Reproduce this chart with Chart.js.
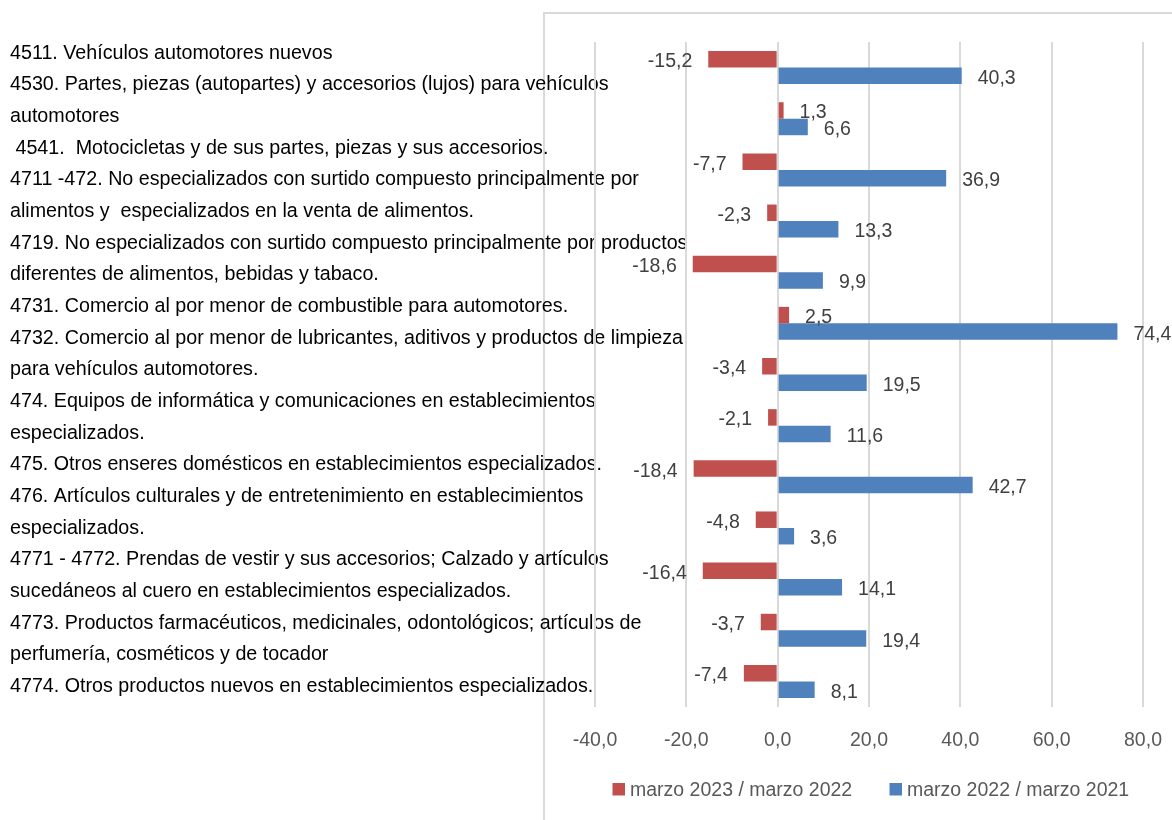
<!DOCTYPE html>
<html><head><meta charset="utf-8">
<script src="https://cdn.jsdelivr.net/npm/chart.js@4/dist/chart.umd.min.js"></script>
<style>html,body{margin:0;padding:0;background:#fff;} canvas{display:block;}</style>
</head><body>
<canvas id="c" width="1172" height="820"></canvas>
<script>
const categories = [
  ["4511. Vehículos automotores nuevos"],
  ["4530. Partes, piezas (autopartes) y accesorios (lujos) para vehículos", "automotores"],
  [" 4541.  Motocicletas y de sus partes, piezas y sus accesorios."],
  ["4711 -472. No especializados con surtido compuesto principalmente por", "alimentos y  especializados en la venta de alimentos."],
  ["4719. No especializados con surtido compuesto principalmente por productos", "diferentes de alimentos, bebidas y tabaco."],
  ["4731. Comercio al por menor de combustible para automotores."],
  ["4732. Comercio al por menor de lubricantes, aditivos y productos de limpieza", "para vehículos automotores."],
  ["474. Equipos de informática y comunicaciones en establecimientos", "especializados."],
  ["475. Otros enseres domésticos en establecimientos especializados."],
  ["476. Artículos culturales y de entretenimiento en establecimientos", "especializados."],
  ["4771 - 4772. Prendas de vestir y sus accesorios; Calzado y artículos", "sucedáneos al cuero en establecimientos especializados."],
  ["4773. Productos farmacéuticos, medicinales, odontológicos; artículos de", "perfumería, cosméticos y de tocador"],
  ["4774. Otros productos nuevos en establecimientos especializados."]
];
const seriesNames = ["marzo 2023 / marzo 2022", "marzo 2022 / marzo 2021"];
const marzo2023 = [-15.2, 1.3, -7.7, -2.3, -18.6, 2.5, -3.4, -2.1, -18.4, -4.8, -16.4, -3.7, -7.4];
const marzo2022 = [40.3, 6.6, 36.9, 13.3, 9.9, 74.4, 19.5, 11.6, 42.7, 3.6, 14.1, 19.4, 8.1];
const xTicks = [-40, -20, 0, 20, 40, 60, 80];

const FONT = '"Liberation Sans", Arial, sans-serif';
const fmt = v => Number(v).toFixed(1).replace('.', ',');

const drawPlugin = {
  id: 'drawExtras',
  beforeDraw(chart) {
    const ctx = chart.ctx;
    ctx.save();
    ctx.fillStyle = '#ffffff';
    ctx.fillRect(0, 0, chart.width, chart.height);
    ctx.strokeStyle = '#d9d9d9';
    ctx.lineWidth = 2;
    ctx.strokeRect(544, 13, 800, 900);
    ctx.fillStyle = '#000000';
    ctx.font = '19.7px ' + FONT;
    ctx.textAlign = 'left';
    ctx.textBaseline = 'alphabetic';
    let i = 0;
    categories.forEach(lines => lines.forEach(line => {
      ctx.fillText(line, 10, 58.7 + i * 31.67);
      i++;
    }));
    ctx.restore();
  },
  afterDatasetsDraw(chart) {
    const ctx = chart.ctx;
    ctx.save();
    ctx.font = '19.5px ' + FONT;
    ctx.fillStyle = '#404040';
    ctx.textBaseline = 'alphabetic';
    chart.data.datasets.forEach((ds, di) => {
      const meta = chart.getDatasetMeta(di);
      meta.data.forEach((bar, j) => {
        const v = ds.data[j];
        const neg = v < 0;
        ctx.textAlign = neg ? 'right' : 'left';
        ctx.fillText(fmt(v), bar.x + (neg ? -16 : 16), bar.y + 8);
      });
    });
    ctx.restore();
  },
  afterDraw(chart) {
    const ctx = chart.ctx;
    ctx.save();
    ctx.font = '19.5px ' + FONT;
    ctx.textAlign = 'left';
    ctx.textBaseline = 'alphabetic';
    const starts = [612.5, 889.5];
    chart.data.datasets.forEach((ds, di) => {
      const x = starts[di];
      ctx.fillStyle = ds.backgroundColor;
      ctx.fillRect(x, 783, 12.5, 12.5);
      ctx.fillStyle = '#595959';
      ctx.fillText(ds.label, x + 17.5, 796);
    });
    ctx.restore();
  }
};

new Chart(document.getElementById('c'), {
  type: 'bar',
  data: {
    labels: categories.map(l => l.join(' ')),
    datasets: [
      { label: seriesNames[0], data: marzo2023, backgroundColor: '#C0504D', borderWidth: 0 },
      { label: seriesNames[1], data: marzo2022, backgroundColor: '#4F81BD', borderWidth: 0 }
    ]
  },
  options: {
    indexAxis: 'y',
    responsive: false,
    animation: false,
    devicePixelRatio: 1,
    datasets: { bar: { categoryPercentage: 0.645, barPercentage: 1.0 } },
    layout: { padding: { left: 595, right: 29, top: 42, bottom: 0 } },
    scales: {
      y: { display: false },
      x: {
        min: -40, max: 80,
        afterBuildTicks: s => { s.ticks = xTicks.map(v => ({ value: v })); },
        afterFit: s => { s.height = 113; s.paddingLeft = 0; s.paddingRight = 0; },
        grid: { color: '#d9d9d9', lineWidth: 2, drawTicks: false },
        border: { display: false },
        ticks: { padding: 22, color: '#595959', font: { family: FONT, size: 19.5 }, callback: v => fmt(v) }
      }
    },
    plugins: {
      legend: { display: false },
      tooltip: { enabled: false }
    }
  },
  plugins: [drawPlugin]
});
</script>
</body></html>
